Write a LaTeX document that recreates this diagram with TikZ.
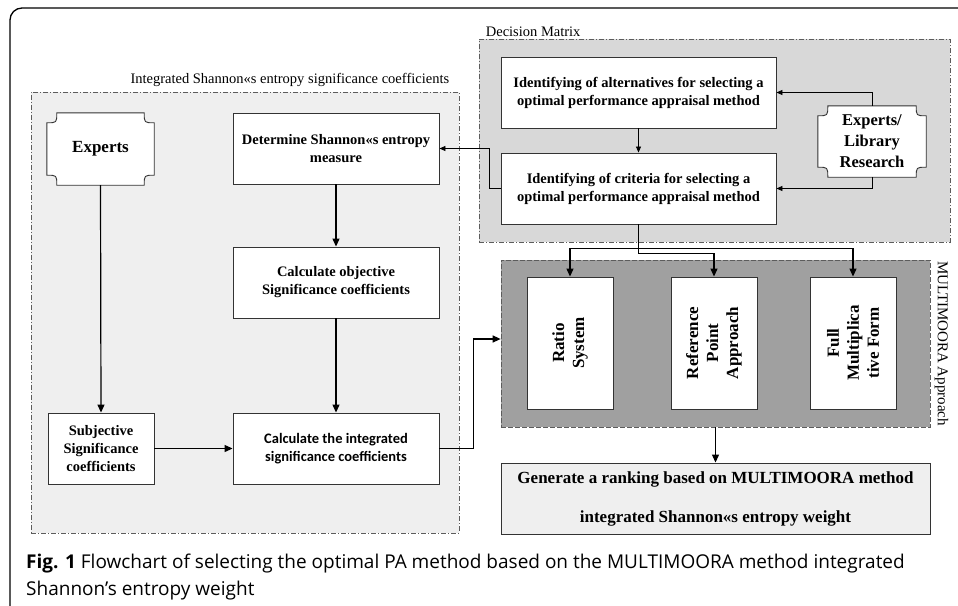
\documentclass[tikz,border=0pt]{standalone}
\usepackage{fontspec}
\setmainfont{Liberation Serif}
\newfontfamily\capfont{Open Sans}
\newfontfamily\calfont{Carlito}
\usetikzlibrary{calc,arrows.meta}
\definecolor{lightfill}{HTML}{EFEFEF}
\definecolor{midfill}{HTML}{D8D8D8}
\definecolor{darkfill}{HTML}{A0A0A0}
\definecolor{edge}{HTML}{333333}
\tikzset{
  box/.style={draw=edge, line width=0.9pt, fill=white, align=center, inner sep=2pt},
  grp/.style={draw=edge!80, line width=0.7pt, dash pattern=on 5pt off 2pt on 1pt off 2pt},
  arr/.style={line width=1.2pt, -{Triangle[length=8pt,width=7pt]}},
  sarr/.style={line width=0.8pt, -{Triangle[length=6pt,width=5pt]}},
  lbl/.style={font=\fontsize{14.5}{17}\selectfont, inner sep=1pt},
  bt/.style={font=\bfseries\fontsize{14.5}{18}\selectfont},
}
\newcommand{\plaque}[2]{%
  \draw[edge, line width=0.9pt, fill=white]
    ($(#1.north west)+(#2,0)$) -- ($(#1.north east)+(-#2,0)$)
    .. controls ($(#1.north east)+(-#2,#2)$) .. ($(#1.north east)+(0,#2)$)
    -- ($(#1.south east)+(0,-#2)$)
    .. controls ($(#1.south east)+(-#2,-#2)$) .. ($(#1.south east)+(-#2,0)$)
    -- ($(#1.south west)+(#2,0)$)
    .. controls ($(#1.south west)+(#2,-#2)$) .. ($(#1.south west)+(0,-#2)$)
    -- ($(#1.north west)+(0,#2)$)
    .. controls ($(#1.north west)+(#2,#2)$) .. cycle;}
\begin{document}
\begin{tikzpicture}[x=1pt,y=-1pt]
\useasboundingbox (0,0) rectangle (958,605);
\fill[white] (0,0) rectangle (958,605);
% outer frame
\draw[line width=1.3pt, rounded corners=12pt] (10,640) -- (10,8) -- (990,8);

% groups
\node[grp, fill=lightfill, minimum width=428, minimum height=441] (ig) at (245,312.5) {};
\node[lbl, anchor=south east] (iglab) at ($(ig.north east)+(-9,-4)$) {Integrated Shannon«s entropy significance coefficients};
\node[grp, fill=midfill, minimum width=471, minimum height=203] (dm) at (714.5,140.5) {};
\node[lbl, anchor=south west] (dmlab) at ($(dm.north west)+(6,-1)$) {Decision Matrix};
\node[grp, dash pattern=on 5pt off 2pt, fill=darkfill, minimum width=429, minimum height=167] (mm) at (715.5,343.5) {};
\node[lbl, font=\fontsize{15}{17}\selectfont, rotate=-90, anchor=south] (mmlab) at ($(mm.east)+(3,0)$) {MULTIMOORA Approach};

% left nodes
\node[minimum width=107, minimum height=72, inner sep=0pt] (exp) at (100.5,149) {};
\plaque{exp}{10}
\node[font=\bfseries\fontsize{17}{21}\selectfont] (exptxt) at (exp.center) {Experts};
\node[box, bt, minimum width=206, minimum height=71] (det) at (336,148.5) {Determine Shannon«s entropy\\measure};
\node[box, bt, minimum width=206, minimum height=71] (obj) at (336,282.5) {Calculate objective\\Significance coefficients};
\node[box, minimum width=206, minimum height=71, font=\calfont\bfseries\fontsize{14.5}{17.5}\selectfont] (int) at (336,448.5) {Calculate the integrated\\significance coefficients};
\node[box, bt, minimum width=106, minimum height=71] (subj) at (101,448.5) {Subjective\\Significance\\coefficients};

% decision matrix nodes
\node[box, bt, minimum width=275, minimum height=71] (alt) at (638.5,92.5) {Identifying of alternatives for selecting a\\optimal performance appraisal method};
\node[box, bt, minimum width=275, minimum height=71] (crit) at (638.5,188.5) {Identifying of criteria for selecting a\\optimal performance appraisal method};
\node[minimum width=108, minimum height=71, inner sep=0pt] (lib) at (872,141.5) {};
\plaque{lib}{10}
\node[font=\bfseries\fontsize{16.5}{21}\selectfont, align=center] (libtxt) at (lib.center) {Experts/\\Library\\Research};

% multimoora nodes
\node[box, minimum width=86, minimum height=132] (ratio) at (570,343) {};
\node[rotate=90, align=center, font=\bfseries\fontsize{17}{20}\selectfont] (ratiotxt) at (ratio.center) {Ratio\\System};
\node[box, minimum width=86, minimum height=132] (ref) at (714,343) {};
\node[rotate=90, align=center, font=\bfseries\fontsize{17}{20}\selectfont] (reftxt) at (ref.center) {Reference\\Point\\Approach};
\node[box, minimum width=86, minimum height=132] (full) at (853,343) {};
\node[rotate=90, align=center, font=\bfseries\fontsize{17}{20}\selectfont] (fulltxt) at (full.center) {Full\\Multiplica\\tive Form};

\node[box, fill=lightfill, minimum width=429, minimum height=71, font=\bfseries\fontsize{17}{39}\selectfont] (gen) at (715.5,498.5) {Generate a ranking based on MULTIMOORA method\\integrated Shannon«s entropy weight};

% connectors
\draw[arr] (exp.south) -- (subj.north);
\draw[arr] (det.south) -- (obj.north);
\draw[arr] (obj.south) -- (int.north);
\draw[arr] (subj.east) -- (int.west);
\draw[sarr] (lib.north) |- (alt.east);
\draw[sarr] (lib.south) |- (crit.east);
\draw[sarr] (alt.south) -- (crit.north);
\draw[sarr] (crit.west) -- ++(-11,0) |- (det.east);
\coordinate (sp) at ($(crit.south)+(0,24)$);
\draw[line width=1.2pt] (crit.south) -- (sp);
\draw[arr] (sp) -| (ratio.north);
\draw[arr] (sp) -| (full.north);
\draw[arr] (crit.south) -- ++(0,29) -| (ref.north);
\draw[arr] (int.east) -- ++(34,0) |- ($(mm.west)+(0,-4.5)$);
\draw[arr] (mm.south) -- (gen.north);

% caption
\node[anchor=base west, inner sep=0pt, font=\capfont\fontsize{19}{27}\selectfont, align=left] (cap) at (26,595) {{\bfseries Fig. 1} Flowchart of selecting the optimal PA method based on the MULTIMOORA method integrated\\Shannon’s entropy weight};
\end{tikzpicture}
\end{document}
